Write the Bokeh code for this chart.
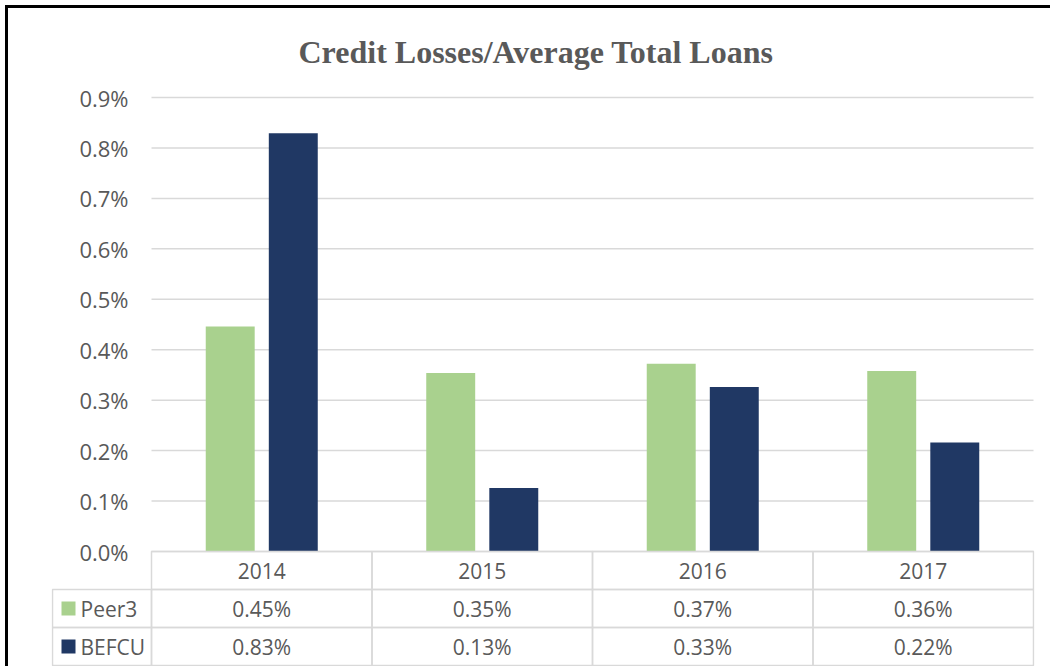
from bokeh.plotting import figure
from bokeh.models import Range1d, FixedTicker, PrintfTickFormatter, ColumnDataSource
from bokeh.transform import dodge
from bokeh.layouts import column
from bokeh.core.properties import value
from bokeh.embed import file_html
from bokeh.resources import INLINE

# ---------------- data ----------------
title_text = "Credit Losses/Average Total Loans"
years = ["2014", "2015", "2016", "2017"]
series_names = ["Peer3", "BEFCU"]
peer3 = [0.446, 0.354, 0.372, 0.358]
befcu = [0.829, 0.126, 0.326, 0.216]
y_ticks = [0.0, 0.1, 0.2, 0.3, 0.4, 0.5, 0.6, 0.7, 0.8, 0.9]
series_colors = ["#A9D18E", "#203864"]

# ---------------- style / layout constants ----------------
TEXT = "#595959"
GRID = "#d9d9d9"
FONT = "Open Sans"
PX_PER_PCT = 504.4        # pixels per 1.0 % on the value axis
CAT_PX = 220.5            # pixels per category column
ROW = 38 / PX_PER_PCT     # table row height in value units
LEG_W = 99 / CAT_PX       # legend column width in category units

x_start = -(100 / CAT_PX)
x_end = 4 + 1 / CAT_PX
y_start = -(115 / PX_PER_PCT)
y_end = 466 / PX_PER_PCT

xc = [i + 0.5 for i in range(len(years))]
src = ColumnDataSource(dict(year=years, xc=xc, peer3=peer3, befcu=befcu,
                            l=[i for i in range(len(years))],
                            r=[i + 1 for i in range(len(years))]))

p = figure(width=1033, height=658,
           x_range=Range1d(x_start, x_end), y_range=Range1d(y_start, y_end),
           x_axis_location=None,
           output_backend="svg", toolbar_location=None,
           min_border_left=43, min_border_right=7, min_border_top=77,
           min_border_bottom=0, outline_line_color=None,
           background_fill_color="white", border_fill_color="white")

p.title.text = title_text
p.title.text_font = "Liberation Serif"
p.title.text_font_style = "bold"
p.title.text_font_size = "32px"
p.title.text_color = TEXT
p.title.align = "left"
p.title.offset = 247
p.title.standoff = 31

ax = p.yaxis[0]
ax.ticker = FixedTicker(ticks=y_ticks)
ax.formatter = PrintfTickFormatter(format="%.1f%%")
ax.axis_line_color = None
ax.major_tick_line_color = None
ax.minor_tick_line_color = None
ax.major_tick_out = 0
ax.major_tick_in = 0
ax.major_label_standoff = -77
ax.major_label_text_font = FONT
ax.major_label_text_font_size = "22px"
ax.major_label_text_color = TEXT

p.xgrid.grid_line_color = None
p.ygrid.grid_line_color = None

# horizontal gridlines over the plotting columns only
p.segment(x0=0, x1=len(years), y0=y_ticks, y1=y_ticks,
          line_color=GRID, line_width=1.5)

p.vbar(x=dodge("xc", -0.143), top="peer3", width=0.222,
       source=src, fill_color=series_colors[0], line_color=None)
p.vbar(x=dodge("xc", 0.143), top="befcu", width=0.222,
       source=src, fill_color=series_colors[1], line_color=None)

# ---------------- data table ----------------
# header row (years)
p.quad(left="l", right="r", top=0, bottom=-ROW, source=src,
       fill_color=None, line_color=GRID, line_width=1.5)
p.text(x="xc", y=-ROW / 2, text="year", source=src,
       text_align="center", text_baseline="middle",
       text_font=value(FONT), text_font_size="21px", text_color=TEXT)

series_values = [peer3, befcu]
cell = dict(l=[], r=[], b=[], t=[], x=[], y=[], txt=[])
for s, vals in enumerate(series_values):
    for i, v in enumerate(vals):
        cell["l"].append(i)
        cell["r"].append(i + 1)
        cell["t"].append(-ROW * (s + 1))
        cell["b"].append(-ROW * (s + 2))
        cell["x"].append(i + 0.5)
        cell["y"].append(-ROW * (s + 1.5))
        cell["txt"].append(f"{v:.2f}%")
cells = ColumnDataSource(cell)
p.quad(left="l", right="r", bottom="b", top="t", source=cells,
       fill_color=None, line_color=GRID, line_width=1.5)
p.text(x="x", y="y", text="txt", source=cells, text_align="center",
       text_baseline="middle", text_font=value(FONT),
       text_font_size="21px", text_color=TEXT)

# legend column
nser = len(series_names)
leg = ColumnDataSource(dict(
    l=[-LEG_W] * nser, r=[0] * nser,
    t=[-ROW * (s + 1) for s in range(nser)],
    b=[-ROW * (s + 2) for s in range(nser)],
    y=[-ROW * (s + 1.5) for s in range(nser)],
    name=series_names, color=series_colors,
    sx=[-LEG_W + 16 / CAT_PX] * nser, tx=[-LEG_W + 28 / CAT_PX] * nser))
p.quad(left="l", right="r", bottom="b", top="t", source=leg,
       fill_color=None, line_color=GRID, line_width=1.5)
p.scatter(x="sx", y="y", marker="square", size=14, source=leg,
          fill_color="color", line_color=None)
p.text(x="tx", y="y", text="name", source=leg, text_align="left",
       text_baseline="middle", text_font=value(FONT),
       text_font_size="21px", text_color=TEXT)

layout = column(p, styles={"margin-left": "5px", "margin-top": "5px",
                           "padding-right": "9px",
                           "border-top": "3px solid black",
                           "border-left": "3px solid black"})

open("out.html", "w").write(file_html(layout, INLINE))
